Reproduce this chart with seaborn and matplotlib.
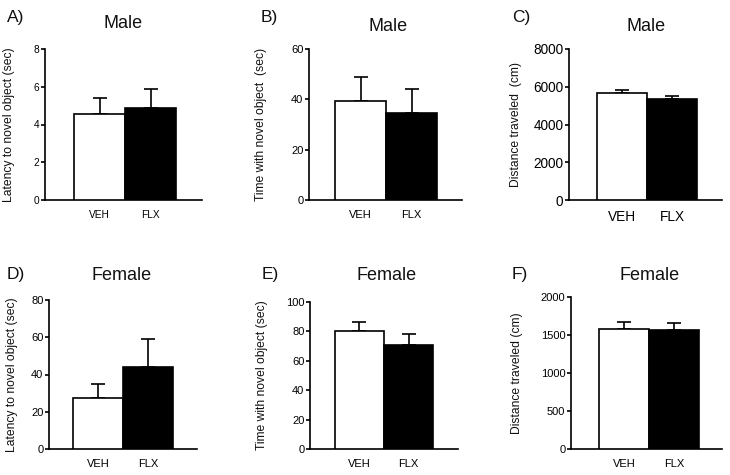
import matplotlib
matplotlib.use("Agg")
import matplotlib.pyplot as plt
import seaborn as sns
import numpy as np
import pandas as pd

# ---------------- data ----------------
groups = ["VEH", "FLX"]
panel_letters = ["A)", "B)", "C)", "D)", "E)", "F)"]
panel_titles = ["Male", "Male", "Male", "Female", "Female", "Female"]
y_labels = [
    "Latency to novel object (sec)",
    "Time with novel object  (sec)",
    "Distance traveled  (cm)",
    "Latency to novel object (sec)",
    "Time with novel object (sec)",
    "Distance traveled (cm)",
]
male_latency_mean = [4.54, 4.89]
male_latency_sem = [0.85, 0.97]
male_time_mean = [39.5, 34.7]
male_time_sem = [9.2, 9.5]
male_distance_mean = [5650, 5350]
male_distance_sem = [160, 160]
female_latency_mean = [27.2, 43.9]
female_latency_sem = [7.7, 15.1]
female_time_mean = [80.5, 70.5]
female_time_sem = [5.7, 8.0]
female_distance_mean = [1583, 1570]
female_distance_sem = [84, 84]
y_max = [8, 60, 8000, 80, 100, 2000]
y_step = [2, 20, 2000, 20, 20, 500]

means = [male_latency_mean, male_time_mean, male_distance_mean,
         female_latency_mean, female_time_mean, female_distance_mean]
sems = [male_latency_sem, male_time_sem, male_distance_sem,
        female_latency_sem, female_time_sem, female_distance_sem]

# ---------------- style / layout ----------------
sns.set_theme(style="ticks")
plt.rcParams["font.family"] = ["Liberation Sans", "DejaVu Sans"]

W, H = 730, 475
fig = plt.figure(figsize=(7.3, 4.75), dpi=100)

# axes rectangles in pixels: left, right, top, bottom
rects = [
    (45, 202, 49, 200),
    (309, 462, 49, 200),
    (569, 722, 49, 200),
    (49, 197, 300, 449),
    (310, 458, 302, 449),
    (571, 722, 297, 449),
]
xlims = [(-1.07, 2.0), (-1.01, 1.99), (-1.06, 2.0),
         (-0.98, 1.98), (-1.01, 2.01), (-1.06, 1.96)]
label_offsets = [30, 42, 47, 31, 42, 48]
tick_sizes = [7.3, 8, 9.8, 8, 8, 8]
title_pos = [(123, 28), (388, 31), (646, 31), (122, 280), (387, 280), (650, 280)]
letter_pos = [(7, 22), (261, 22), (512, 22), (7, 279), (262, 279), (512, 279)]

lw = 1.2
for i in range(6):
    l, r, t, b = rects[i]
    ax = fig.add_axes([l / W, 1 - b / H, (r - l) / W, (b - t) / H])
    df = pd.DataFrame({"group": groups, "value": means[i]})
    sns.barplot(data=df, x="group", y="value", hue="group",
                palette=["white", "black"], edgecolor="black",
                linewidth=lw, width=1.0, legend=False, ax=ax, zorder=3)
    ax.errorbar(x=[0, 1], y=means[i],
                yerr=[np.zeros(2), np.array(sems[i])],
                fmt="none", ecolor="black", elinewidth=lw,
                capsize=5, capthick=lw, zorder=2)
    ax.set_xlim(*xlims[i])
    ax.set_ylim(0, y_max[i])
    ax.set_yticks(np.arange(0, y_max[i] + y_step[i] / 2, y_step[i]))
    ax.set_xlabel("")
    ax.set_ylabel(y_labels[i], fontsize=8.7, color="#111111")
    ax.yaxis.set_label_coords(-label_offsets[i] / (r - l), 0.5)
    sns.despine(ax=ax)
    for s in ["left", "bottom"]:
        ax.spines[s].set_linewidth(lw)
        ax.spines[s].set_color("black")
    ax.tick_params(axis="y", length=3, width=lw, pad=1,
                   labelsize=tick_sizes[i], colors="black")
    ax.tick_params(axis="x", length=0, pad=7,
                   labelsize=tick_sizes[i], colors="black")
    ax.set_facecolor("white")

    tx, ty = title_pos[i]
    fig.text(tx / W, 1 - ty / H, panel_titles[i], ha="center",
             va="baseline", fontsize=13, color="#111111")
    lx, ly = letter_pos[i]
    fig.text(lx / W, 1 - ly / H, panel_letters[i], ha="left",
             va="baseline", fontsize=12.5, color="#111111")

fig.savefig("out.png", dpi=100, facecolor="white")
